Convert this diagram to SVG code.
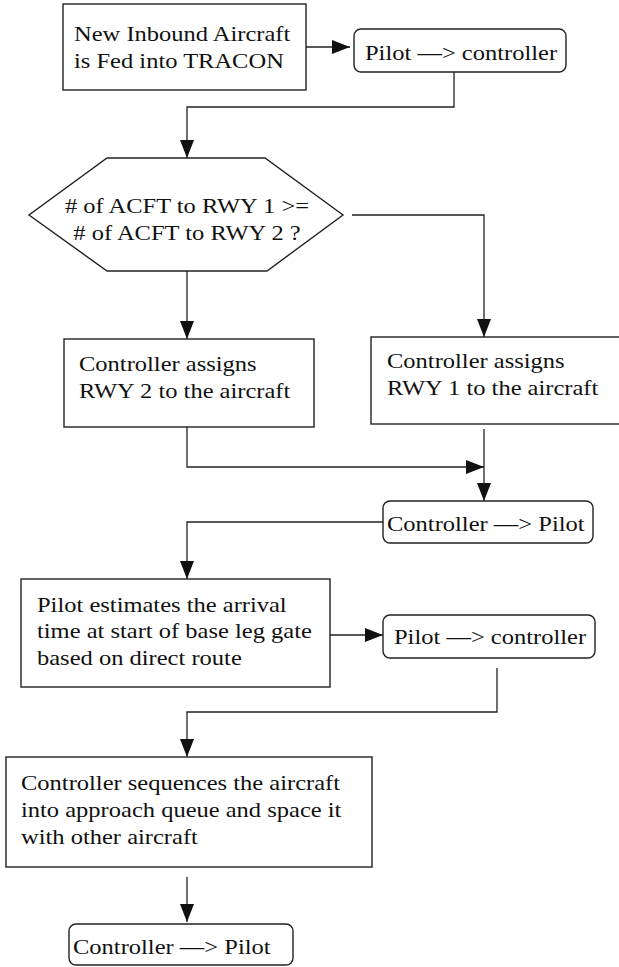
<svg xmlns="http://www.w3.org/2000/svg" width="619" height="967" viewBox="0 0 619 967">
<style>
.box{fill:#fff;stroke:#222;stroke-width:1.4}
.con{fill:none;stroke:#222;stroke-width:1.3}
.t{font-family:"Liberation Serif","Times New Roman",serif;font-size:21px;fill:#111}
.m{text-anchor:middle}
</style>
<defs>
<marker id="ah" markerUnits="userSpaceOnUse" markerWidth="20" markerHeight="14" refX="18" refY="7" orient="auto"><path d="M0,0 L18,7 L0,14 z" fill="#111"/></marker>
</defs>
<rect width="619" height="967" fill="#fff"/>
<g id="connectors">
<path class="con" d="M306,47 H350" marker-end="url(#ah)"/>
<path class="con" d="M454,72 V107 H187 V158" marker-end="url(#ah)"/>
<path class="con" d="M352,215 H484 V337" marker-end="url(#ah)"/>
<path class="con" d="M187,271 V339" marker-end="url(#ah)"/>
<path class="con" d="M187,427 V467 H484" marker-end="url(#ah)"/>
<path class="con" d="M484,429 V501" marker-end="url(#ah)"/>
<path class="con" d="M383,522 H187 V579" marker-end="url(#ah)"/>
<path class="con" d="M330,635 H383" marker-end="url(#ah)"/>
<path class="con" d="M497,668 V712 H187 V757" marker-end="url(#ah)"/>
<path class="con" d="M187,877 V922" marker-end="url(#ah)"/>
</g>
<g id="n1">
<rect class="box" x="63" y="4" width="243" height="86"/>
<text class="t" transform="matrix(1.167 0 0 1 74 41)"><tspan x="0" y="0">New Inbound Aircraft</tspan><tspan x="0" y="27">is Fed into TRACON</tspan></text>
</g>
<g id="n2">
<rect class="box" x="354" y="29" width="212" height="43" rx="7"/>
<text class="t" transform="matrix(1.167 0 0 1 365 60)">Pilot —&gt; controller</text>
</g>
<g id="n3">
<polygon class="box" points="107,158 265,158 343,215 267,271 107,271 29,215"/>
<text class="t m" transform="matrix(1.167 0 0 1 187 213)"><tspan x="0" y="0"># of ACFT to RWY 1 &gt;=</tspan><tspan x="0" y="27"># of ACFT to RWY 2 ?</tspan></text>
</g>
<g id="n4">
<rect class="box" x="64" y="339" width="250" height="88"/>
<text class="t" transform="matrix(1.167 0 0 1 79 371)"><tspan x="0" y="0">Controller assigns</tspan><tspan x="0" y="27">RWY 2 to the aircraft</tspan></text>
</g>
<g id="n5">
<rect class="box" x="371" y="337" width="252" height="87"/>
<text class="t" transform="matrix(1.167 0 0 1 387 368)"><tspan x="0" y="0">Controller assigns</tspan><tspan x="0" y="27">RWY 1 to the aircraft</tspan></text>
</g>
<g id="n6">
<rect class="box" x="383" y="501" width="210" height="42" rx="7"/>
<text class="t" transform="matrix(1.167 0 0 1 387 531)">Controller —&gt; Pilot</text>
</g>
<g id="n7">
<rect class="box" x="21" y="579" width="309" height="108"/>
<text class="t" transform="matrix(1.167 0 0 1 37 612)"><tspan x="0" y="0">Pilot estimates the arrival</tspan><tspan x="0" y="26.5">time at start of base leg gate</tspan><tspan x="0" y="53">based on direct route</tspan></text>
</g>
<g id="n8">
<rect class="box" x="383" y="615" width="212" height="43" rx="7"/>
<text class="t" transform="matrix(1.167 0 0 1 394 644)">Pilot —&gt; controller</text>
</g>
<g id="n9">
<rect class="box" x="6" y="757" width="366" height="110"/>
<text class="t" transform="matrix(1.167 0 0 1 21 790)"><tspan x="0" y="0">Controller sequences the aircraft</tspan><tspan x="0" y="27">into approach queue and space it</tspan><tspan x="0" y="54">with other aircraft</tspan></text>
</g>
<g id="n10">
<rect class="box" x="69" y="924" width="224" height="41" rx="7"/>
<text class="t" transform="matrix(1.167 0 0 1 73 954)">Controller —&gt; Pilot</text>
</g>
</svg>
